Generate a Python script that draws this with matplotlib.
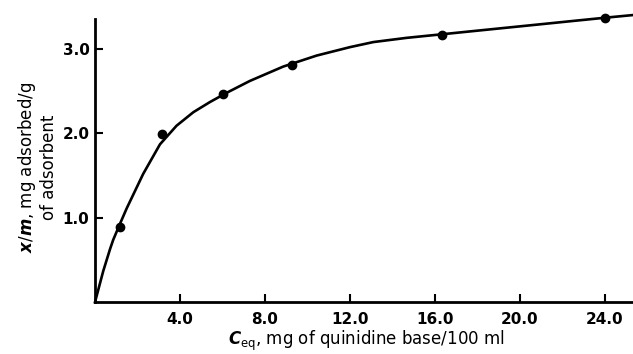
import matplotlib
matplotlib.use("Agg")
import matplotlib.pyplot as plt

plt.rcParams['font.family'] = ['DejaVu Sans']
plt.rcParams['mathtext.fontset'] = 'custom'
plt.rcParams['mathtext.rm'] = 'DejaVu Sans'
plt.rcParams['mathtext.it'] = 'DejaVu Sans:italic:bold'
plt.rcParams['mathtext.bf'] = 'DejaVu Sans:bold'

# measured points (concentration, amount adsorbed)
conc = [1.18, 3.14, 6.04, 9.25, 16.31, 24.0]
adsorbed = [0.89, 1.99, 2.47, 2.81, 3.16, 3.37]

# fitted isotherm curve
curve_x = [0.0, 0.39, 0.71, 0.86, 1.18, 1.49, 2.27, 3.06, 3.84, 4.63, 5.41,
           6.2, 7.29, 8.86, 10.43, 12.0, 13.1, 14.67, 16.24, 17.8, 19.37,
           20.94, 22.5, 24.08, 25.33]
curve_y = [0.0, 0.37, 0.63, 0.74, 0.93, 1.11, 1.52, 1.87, 2.09, 2.25, 2.37,
           2.48, 2.62, 2.79, 2.92, 3.02, 3.08, 3.13, 3.17, 3.21, 3.25,
           3.29, 3.33, 3.37, 3.40]

x_ticks = [4, 8, 12, 16, 20, 24]
y_ticks = [1, 2, 3]

fig = plt.figure(figsize=(6.33, 3.54), dpi=100)
ax = fig.add_axes([0.150, 0.146, 0.850, 0.8354])

ax.plot(curve_x, curve_y, color='black', lw=1.9, clip_on=False)
ax.plot(conc, adsorbed, 'o', color='black', ms=6, clip_on=False)

ax.set_xlim(0, 25.32)
ax.set_ylim(0, 3.5)
ax.spines['top'].set_visible(False)
ax.spines['right'].set_visible(False)
ax.spines['left'].set_bounds(0, 3.35)
ax.spines['left'].set_linewidth(2)
ax.spines['bottom'].set_linewidth(2)

ax.set_xticks(x_ticks)
ax.set_xticklabels(['%.1f' % v for v in x_ticks], fontweight='bold', fontsize=11)
ax.set_yticks(y_ticks)
ax.set_yticklabels(['%.1f' % v for v in y_ticks], fontweight='bold', fontsize=11)
ax.tick_params(axis='x', direction='in', length=6, width=1.5, pad=7)
ax.tick_params(axis='y', direction='in', length=6, width=1.5, pad=4)

fig.text(37 / 633, 1 - 167 / 354, '$x/m$, mg adsorbed/g\nof adsorbent',
         rotation=90, ha='center', va='center', multialignment='center', fontsize=12)
fig.text(366 / 633, 1 - 341 / 354, '$C_{\\mathrm{eq}}$, mg of quinidine base/100 ml',
         ha='center', va='center', fontsize=12)

fig.savefig('out.png', dpi=100)
